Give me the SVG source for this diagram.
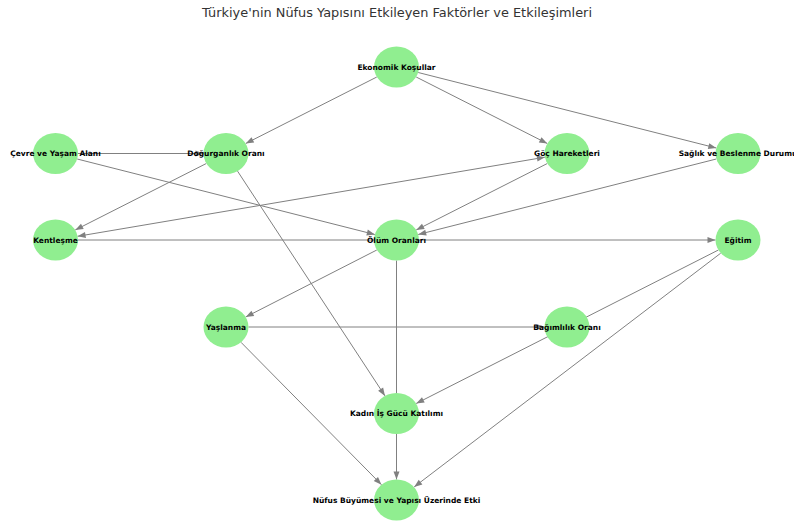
<svg xmlns="http://www.w3.org/2000/svg" width="794" height="521" viewBox="0 0 794 521">
<style>
.edge{stroke:#808080;stroke-width:1;fill:none;marker-end:url(#arr)}
.node ellipse{fill:#90EE90}
.node text{font-family:"DejaVu Sans",sans-serif;font-weight:bold;font-size:7.5px;fill:#000;text-anchor:middle}
.title{font-family:"DejaVu Sans",sans-serif;font-size:12.9px;fill:#333;text-anchor:middle}
</style>
<defs>
<marker id="arr" markerUnits="userSpaceOnUse" markerWidth="10" markerHeight="8" refX="9" refY="4" orient="auto-start-reverse" viewBox="0 0 10 8">
<path d="M1,1 L9,4 L1,7 Z" fill="#808080"/>
</marker>
</defs>
<rect width="794" height="521" fill="#fff"/>
<text class="title" x="397" y="16.7">Türkiye'nin Nüfus Yapısını Etkileyen Faktörler ve Etkileşimleri</text>
<g id="connectors">
<line class="edge" x1="376.8" y1="77" x2="245.7" y2="143.5"/>
<line class="edge" x1="416.2" y1="77" x2="547.3" y2="143.5"/>
<line class="edge" x1="418.2" y1="72.5" x2="716.3" y2="148"/>
<line class="edge" x1="78" y1="153.5" x2="203.5" y2="153.5"/>
<line class="edge" x1="77.2" y1="159" x2="374.8" y2="234.5"/>
<line class="edge" x1="206.3" y1="163.5" x2="75.2" y2="230"/>
<line class="edge" x1="237.5" y1="171.1" x2="385" y2="395.9"/>
<line class="edge" x1="547.3" y1="163.5" x2="416.2" y2="230"/>
<line class="edge" x1="716.3" y1="159" x2="418.2" y2="234.5"/>
<line class="edge" x1="77.6" y1="236.3" x2="544.9" y2="157.2" marker-start="url(#arr)"/>
<line class="edge" x1="78" y1="240" x2="715.5" y2="240"/>
<line class="edge" x1="376.8" y1="250" x2="245.7" y2="317"/>
<line class="edge" x1="396.5" y1="260.5" x2="396.5" y2="479.5"/>
<line class="edge" x1="248.5" y1="327" x2="544.5" y2="327"/>
<line class="edge" x1="241" y1="342.3" x2="381.5" y2="484.7"/>
<line class="edge" x1="720.7" y1="253.2" x2="414.2" y2="486.9"/>
<line class="edge" x1="718.4" y1="250" x2="416.2" y2="403.5"/>
</g>
<g id="n-ekonomik" class="node"><ellipse cx="396.5" cy="67" rx="22.5" ry="20.5"/><text x="396.5" y="69.7">Ekonomik Koşullar</text></g>
<g id="n-cevre" class="node"><ellipse cx="55.5" cy="153.5" rx="22.5" ry="20.5"/><text x="55.5" y="156.2">Çevre ve Yaşam Alanı</text></g>
<g id="n-dogurganlik" class="node"><ellipse cx="226" cy="153.5" rx="22.5" ry="20.5"/><text x="226" y="156.2">Doğurganlık Oranı</text></g>
<g id="n-goc" class="node"><ellipse cx="567" cy="153.5" rx="22.5" ry="20.5"/><text x="567" y="156.2">Göç Hareketleri</text></g>
<g id="n-saglik" class="node"><ellipse cx="738" cy="153.5" rx="22.5" ry="20.5"/><text x="738" y="156.2">Sağlık ve Beslenme Durumu</text></g>
<g id="n-kentlesme" class="node"><ellipse cx="55.5" cy="240" rx="22.5" ry="20.5"/><text x="55.5" y="242.7">Kentleşme</text></g>
<g id="n-olum" class="node"><ellipse cx="396.5" cy="240" rx="22.5" ry="20.5"/><text x="396.5" y="242.7">Ölüm Oranları</text></g>
<g id="n-egitim" class="node"><ellipse cx="738" cy="240" rx="22.5" ry="20.5"/><text x="738" y="242.7">Eğitim</text></g>
<g id="n-yaslanma" class="node"><ellipse cx="226" cy="327" rx="22.5" ry="20.5"/><text x="226" y="329.7">Yaşlanma</text></g>
<g id="n-bagimlilik" class="node"><ellipse cx="567" cy="327" rx="22.5" ry="20.5"/><text x="567" y="329.7">Bağımlılık Oranı</text></g>
<g id="n-kadin" class="node"><ellipse cx="396.5" cy="413.5" rx="22.5" ry="20.5"/><text x="396.5" y="416.2">Kadın İş Gücü Katılımı</text></g>
<g id="n-nufus" class="node"><ellipse cx="396.5" cy="500" rx="22.5" ry="20.5"/><text x="396.5" y="502.7">Nüfus Büyümesi ve Yapısı Üzerinde Etki</text></g>
</svg>
